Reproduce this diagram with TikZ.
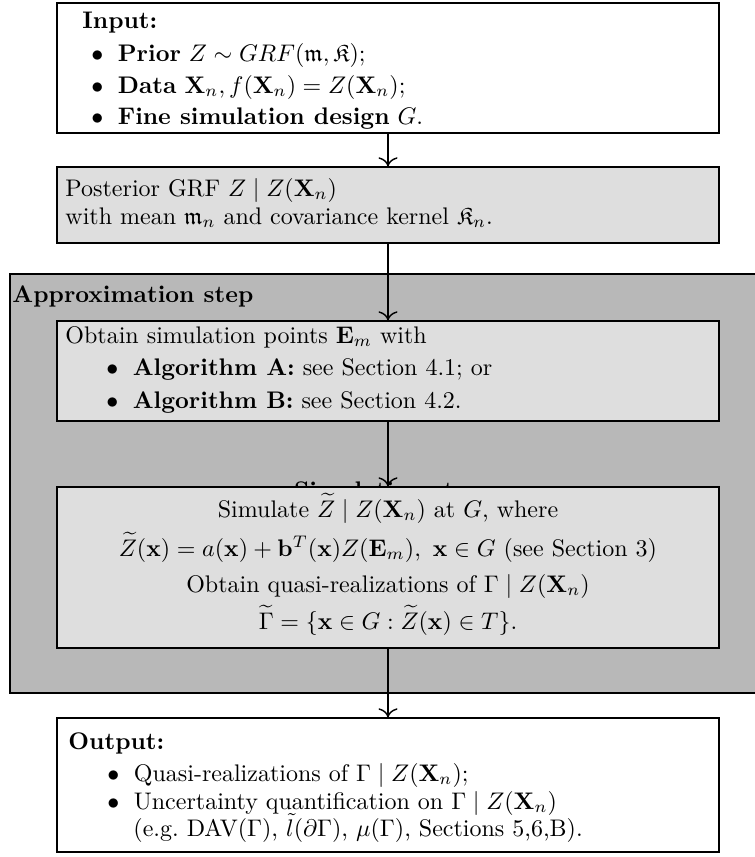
\documentclass[tikz,border=0pt]{standalone}
\usepackage{amssymb}
\usepackage{amsmath}
\usepackage{tikz}
\usetikzlibrary{fit,arrows.meta}
\definecolor{boxgray}{gray}{0.87}
\definecolor{stepgray}{gray}{0.72}

\begin{document}
\begin{tikzpicture}[x=0.4167pt, y=-0.4167pt, >={To[scale=1.3]},
  frame/.style={draw=black, line width=0.5pt, inner sep=0pt},
  txt/.style={anchor=base west, inner sep=0pt},
  ctxt/.style={anchor=base, inner sep=0pt},
  flow/.style={->, line width=0.6pt}]
  \useasboundingbox (0,0) rectangle (755,857);

  % Input
  \node[frame, fill=white, fit={(57,3) (719,133)}] (input) {};
  \node[txt] (intitle) at (82,29) {\textbf{Input:}};
  \node[txt] (inprior) at (91,61) {$\bullet$\hspace{6pt}\textbf{Prior} $Z\sim GRF(\mathfrak{m},\mathfrak{K})$;};
  \node[txt] (indata) at (91,93) {$\bullet$\hspace{6pt}\textbf{Data} $\mathbf{X}_n, f(\mathbf{X}_n)=Z(\mathbf{X}_n)$;};
  \node[txt] (infine) at (91,124) {$\bullet$\hspace{6pt}\textbf{Fine simulation design} $G$.};

  % Posterior
  \node[frame, fill=boxgray, fit={(57,167) (719,243)}] (post) {};
  \node[txt] (postone) at (65,196) {Posterior GRF $Z\mid Z(\mathbf{X}_n)$};
  \node[txt] (posttwo) at (65,224) {with mean $\mathfrak{m}_n$ and covariance kernel $\mathfrak{K}_n$.};

  % Approximation step
  \node[frame, fill=stepgray, fit={(10,274) (758,693)}] (approx) {};
  \node[txt] (approxtitle) at (12,302) {\textbf{Approximation step}};

  \node[frame, fill=boxgray, fit={(57,321) (719,421)}] (points) {};
  \node[txt] (pointsone) at (65,343) {Obtain simulation points $\mathbf{E}_m$ with};
  \node[txt] (pointsA) at (106,375) {$\bullet$\hspace{6pt}\textbf{Algorithm A:} see Section 4.1; or};
  \node[txt] (pointsB) at (106,408) {$\bullet$\hspace{6pt}\textbf{Algorithm B:} see Section 4.2.};

  % Simulation step (label mostly hidden by the box)
  \node[ctxt] (simtitle) at (388,498) {\textbf{Simulation step}};
  \node[frame, fill=boxgray, fit={(57,487) (719,648)}] (sim) {};
  \node[ctxt] (simone) at (388,517) {Simulate $\widetilde{Z}\mid Z(\mathbf{X}_n)$ at $G$, where};
  \node[ctxt] (simtwo) at (388,556) {$\widetilde{Z}(\mathbf{x})=a(\mathbf{x})+\mathbf{b}^T(\mathbf{x})Z(\mathbf{E}_m),\ \mathbf{x}\in G$ (see Section 3)};
  \node[ctxt] (simthree) at (388,592) {Obtain quasi-realizations of $\Gamma\mid Z(\mathbf{X}_n)$};
  \node[ctxt] (simfour) at (388,629) {$\widetilde{\Gamma}=\{\mathbf{x}\in G:\widetilde{Z}(\mathbf{x})\in T\}$.};

  % Output
  \node[frame, fill=white, fit={(57,718) (719,852)}] (output) {};
  \node[txt] (outtitle) at (68,749) {\textbf{Output:}};
  \node[txt] (outone) at (107,781) {$\bullet$\hspace{6pt}Quasi-realizations of $\Gamma\mid Z(\mathbf{X}_n)$;};
  \node[txt] (outtwo) at (107,809) {$\bullet$\hspace{6pt}Uncertainty quantification on $\Gamma\mid Z(\mathbf{X}_n)$};
  \node[txt] (outthree) at (133,836) {(e.g.\ DAV$(\Gamma)$, $\tilde{l}(\partial\Gamma)$, $\mu(\Gamma)$, Sections 5,6,B).};

  % Arrows
  \draw[flow] (input) -- (post);
  \draw[flow] (post) -- (points);
  \draw[flow] (points) -- (sim);
  \draw[flow] (sim) -- (output);
\end{tikzpicture}
\end{document}
